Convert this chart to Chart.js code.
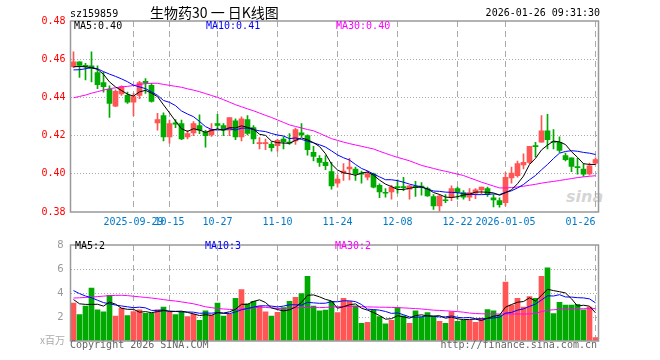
<!DOCTYPE html>
<html>
<head>
<meta charset="utf-8">
<script src="https://cdn.jsdelivr.net/npm/chart.js@4.4.0/dist/chart.umd.min.js"></script>
<style>
body{margin:0;background:#fff;}
#wrap{position:relative;width:660px;height:360px;overflow:hidden;font-family:"DejaVu Sans Mono",monospace;font-size:10px;line-height:12px;}
canvas{position:absolute;left:0;}
.t{position:absolute;white-space:pre;}
#sina{left:566px;top:187px;font:italic bold 16px "DejaVu Sans",sans-serif;color:rgba(195,195,195,0.7);}
</style>
</head>
<body>
<div id="wrap">
  <div class="t" id="sina">sina</div>
  <canvas id="kline" width="660" height="232" style="top:0"></canvas>
  <canvas id="vol" width="660" height="128" style="top:232px"></canvas>
  <div class="t" style="left:70px;top:8px;">sz159859</div>
  <div class="t" style="left:150px;top:5px;font:14px/15px 'Noto Sans CJK SC',sans-serif;">生物药30 一 日K线图</div>
  <div class="t" style="right:60px;top:7px;">2026-01-26 09:31:30</div>
  <div class="t" style="left:74px;top:20px;color:#000;">MA5:0.40</div>
  <div class="t" style="left:206px;top:20px;color:#0000ff;">MA10:0.41</div>
  <div class="t" style="left:336px;top:20px;color:#ff00ff;">MA30:0.40</div>
  <div class="t" style="left:75px;top:240px;color:#000;">MA5:2</div>
  <div class="t" style="left:205px;top:240px;color:#0000ff;">MA10:3</div>
  <div class="t" style="left:335px;top:240px;color:#ff00ff;">MA30:2</div>
  <div class="t" style="right:595px;top:334px;color:#aaa;font:10px/12px 'Noto Sans CJK SC',sans-serif;">x百万</div>
  <div class="t" style="left:70px;top:339px;color:#666;">Copyright 2026 SINA.COM</div>
  <div class="t" style="right:63px;top:339px;color:#666;">http://finance.sina.com.cn</div>
</div>
<script>
var dates = [
  '2025-09-15','2025-09-16','2025-09-17','2025-09-18','2025-09-19','2025-09-22','2025-09-23','2025-09-24','2025-09-25','2025-09-26',
  '2025-09-29','2025-09-30','2025-10-09','2025-10-10','2025-10-13','2025-10-14','2025-10-15','2025-10-16','2025-10-17','2025-10-20',
  '2025-10-21','2025-10-22','2025-10-23','2025-10-24','2025-10-27','2025-10-28','2025-10-29','2025-10-30','2025-10-31','2025-11-03',
  '2025-11-04','2025-11-05','2025-11-06','2025-11-07','2025-11-10','2025-11-11','2025-11-12','2025-11-13','2025-11-14','2025-11-17',
  '2025-11-18','2025-11-19','2025-11-20','2025-11-21','2025-11-24','2025-11-25','2025-11-26','2025-11-27','2025-11-28','2025-12-01',
  '2025-12-02','2025-12-03','2025-12-04','2025-12-05','2025-12-08','2025-12-09','2025-12-10','2025-12-11','2025-12-12','2025-12-15',
  '2025-12-16','2025-12-17','2025-12-18','2025-12-19','2025-12-22','2025-12-23','2025-12-24','2025-12-25','2025-12-26','2025-12-29',
  '2025-12-30','2025-12-31','2026-01-05','2026-01-06','2026-01-07','2026-01-08','2026-01-09','2026-01-12','2026-01-13','2026-01-14',
  '2026-01-15','2026-01-16','2026-01-19','2026-01-20','2026-01-21','2026-01-22','2026-01-23','2026-01-26'
];
var tickDates = ['2025-09-29','2025-10-15','2025-10-27','2025-11-10','2025-11-24','2025-12-08','2025-12-22','2026-01-05','2026-01-26'];
var tickText = ['2025-09-29','10-15','10-27','11-10','11-24','12-08','12-22','2026-01-05','01-26     '];

var open = [
  0.4561,0.4586,0.4568,0.4565,0.4530,0.4477,0.4442,0.4354,0.4418,0.4411,
  0.4375,0.4411,0.4484,0.4463,0.4267,0.4305,0.4193,0.4267,0.4263,0.4193,
  0.4214,0.4253,0.4218,0.4204,0.4263,0.4253,0.4228,0.4277,0.4193,0.4284,
  0.4242,0.4158,0.4158,0.4154,0.4147,0.4182,0.4165,0.4172,0.4214,0.4200,
  0.4112,0.4081,0.4060,0.4011,0.3951,0.4004,0.4025,0.4025,0.4002,0.3982,
  0.4000,0.3940,0.3900,0.3905,0.3932,0.3932,0.3919,0.3935,0.3932,0.3923,
  0.3881,0.3832,0.3861,0.3877,0.3923,0.3902,0.3877,0.3898,0.3916,0.3923,
  0.3874,0.3860,0.3849,0.3979,0.3990,0.4046,0.4060,0.4145,0.4165,0.4225,
  0.4166,0.4165,0.4095,0.4084,0.4035,0.4025,0.4000,0.4056
];
var high = [
  0.4639,0.4586,0.4579,0.4639,0.4565,0.4533,0.4460,0.4439,0.4460,0.4428,
  0.4421,0.4484,0.4498,0.4474,0.4316,0.4319,0.4281,0.4284,0.4281,0.4228,
  0.4274,0.4309,0.4228,0.4263,0.4312,0.4263,0.4295,0.4288,0.4298,0.4305,
  0.4253,0.4189,0.4182,0.4168,0.4182,0.4193,0.4211,0.4239,0.4263,0.4204,
  0.4144,0.4095,0.4095,0.4060,0.3993,0.4053,0.4081,0.4035,0.4014,0.4014,
  0.4004,0.3947,0.3923,0.3940,0.3968,0.3982,0.3940,0.3961,0.3954,0.3930,
  0.3891,0.3891,0.3891,0.3937,0.3930,0.3912,0.3923,0.3923,0.3930,0.3930,
  0.3891,0.3874,0.4007,0.4035,0.4067,0.4105,0.4144,0.4165,0.4305,0.4312,
  0.4232,0.4193,0.4109,0.4084,0.4081,0.4053,0.4056,0.4084
];
var low = [
  0.4556,0.4505,0.4491,0.4481,0.4446,0.4428,0.4295,0.4351,0.4410,0.4368,
  0.4305,0.4393,0.4421,0.4375,0.4228,0.4172,0.4161,0.4242,0.4179,0.4182,
  0.4200,0.4210,0.4140,0.4196,0.4235,0.4200,0.4200,0.4179,0.4172,0.4204,
  0.4158,0.4130,0.4126,0.4119,0.4119,0.4130,0.4154,0.4154,0.4193,0.4098,
  0.4067,0.4039,0.4021,0.3919,0.3930,0.3965,0.3968,0.3965,0.3951,0.3968,
  0.3926,0.3875,0.3877,0.3867,0.3898,0.3912,0.3867,0.3881,0.3888,0.3881,
  0.3814,0.3804,0.3849,0.3859,0.3867,0.3867,0.3859,0.3870,0.3895,0.3881,
  0.3826,0.3825,0.3832,0.3951,0.3982,0.4025,0.4053,0.4088,0.4165,0.4130,
  0.4130,0.4112,0.4067,0.4011,0.3998,0.3986,0.3993,0.4049
];
var close = [
  0.4586,0.4568,0.4561,0.4553,0.4467,0.4456,0.4368,0.4432,0.4456,0.4375,
  0.4404,0.4477,0.4474,0.4379,0.4284,0.4193,0.4263,0.4260,0.4182,0.4211,
  0.4263,0.4228,0.4200,0.4232,0.4253,0.4228,0.4295,0.4193,0.4288,0.4211,
  0.4182,0.4162,0.4161,0.4137,0.4175,0.4168,0.4161,0.4232,0.4204,0.4126,
  0.4091,0.4060,0.4042,0.3937,0.3972,0.4014,0.4035,0.4000,0.3998,0.4000,
  0.3930,0.3905,0.3898,0.3930,0.3928,0.3928,0.3937,0.3928,0.3930,0.3884,
  0.3832,0.3884,0.3859,0.3923,0.3902,0.3877,0.3902,0.3916,0.3930,0.3891,
  0.3863,0.3839,0.3982,0.4004,0.4053,0.4060,0.4144,0.4142,0.4225,0.4179,
  0.4164,0.4123,0.4074,0.4039,0.4032,0.3998,0.4042,0.4074
];
var ma5 = [
  0.4560,0.4562,0.4560,0.4555,0.4547,0.4521,0.4481,0.4455,0.4436,0.4417,
  0.4407,0.4429,0.4437,0.4422,0.4404,0.4361,0.4319,0.4276,0.4236,0.4222,
  0.4236,0.4229,0.4217,0.4227,0.4235,0.4228,0.4242,0.4240,0.4251,0.4243,
  0.4234,0.4207,0.4201,0.4171,0.4163,0.4161,0.4160,0.4175,0.4188,0.4178,
  0.4163,0.4143,0.4105,0.4051,0.4020,0.4005,0.4000,0.3992,0.4004,0.4009,
  0.3993,0.3967,0.3946,0.3933,0.3918,0.3918,0.3924,0.3930,0.3930,0.3921,
  0.3902,0.3892,0.3878,0.3876,0.3880,0.3889,0.3893,0.3904,0.3905,0.3903,
  0.3900,0.3888,0.3901,0.3916,0.3948,0.3988,0.4049,0.4081,0.4125,0.4150,
  0.4171,0.4167,0.4153,0.4116,0.4086,0.4053,0.4049,0.4049
];
var ma10 = [
  0.4544,0.4545,0.4550,0.4556,0.4550,0.4535,0.4522,0.4510,0.4497,0.4482,
  0.4464,0.4455,0.4446,0.4429,0.4411,0.4384,0.4374,0.4357,0.4329,0.4313,
  0.4299,0.4274,0.4247,0.4232,0.4229,0.4232,0.4236,0.4229,0.4239,0.4239,
  0.4231,0.4225,0.4221,0.4211,0.4203,0.4198,0.4184,0.4188,0.4180,0.4171,
  0.4162,0.4152,0.4140,0.4120,0.4099,0.4084,0.4072,0.4049,0.4028,0.4015,
  0.3999,0.3984,0.3969,0.3969,0.3964,0.3956,0.3946,0.3938,0.3932,0.3920,
  0.3910,0.3908,0.3904,0.3903,0.3901,0.3896,0.3893,0.3891,0.3891,0.3892,
  0.3895,0.3891,0.3903,0.3911,0.3926,0.3944,0.3969,0.3991,0.4021,0.4049,
  0.4080,0.4108,0.4117,0.4121,0.4118,0.4112,0.4108,0.4101
];
var ma30 = [
  0.4398,0.4405,0.4412,0.4422,0.4430,0.4438,0.4446,0.4450,0.4455,0.4458,
  0.4462,0.4468,0.4472,0.4474,0.4474,0.4468,0.4463,0.4458,0.4453,0.4445,
  0.4438,0.4430,0.4420,0.4410,0.4400,0.4388,0.4375,0.4362,0.4351,0.4340,
  0.4330,0.4318,0.4306,0.4295,0.4282,0.4269,0.4256,0.4248,0.4240,0.4232,
  0.4225,0.4212,0.4198,0.4184,0.4175,0.4166,0.4158,0.4151,0.4144,0.4137,
  0.4130,0.4118,0.4107,0.4096,0.4086,0.4077,0.4068,0.4056,0.4044,0.4036,
  0.4028,0.4020,0.4013,0.4006,0.3998,0.3991,0.3979,0.3968,0.3956,0.3946,
  0.3936,0.3926,0.3926,0.3928,0.3931,0.3935,0.3940,0.3945,0.3951,0.3956,
  0.3960,0.3965,0.3970,0.3975,0.3980,0.3984,0.3987,0.3990
];
// volume in millions
var volume = [
  3.15,2.20,2.91,4.42,2.60,2.44,3.81,2.07,2.75,2.12,
  2.46,2.60,2.30,2.30,2.60,2.83,2.41,2.20,2.41,2.04,
  2.25,1.72,2.52,2.17,3.15,2.07,2.25,3.55,4.29,3.10,
  3.31,2.89,2.44,2.07,2.38,2.78,3.31,3.63,3.95,5.38,
  2.91,2.52,2.57,3.31,2.36,3.55,3.31,2.94,1.48,1.56,
  2.57,2.04,1.43,1.72,2.78,2.10,1.48,2.52,2.00,2.36,
  2.04,1.64,1.48,2.44,1.64,1.72,1.72,1.56,1.90,2.62,
  2.52,2.17,4.90,3.00,3.55,2.83,3.71,3.55,5.38,6.09,
  2.28,3.23,3.00,3.00,3.05,2.60,2.83,0.29
];
var vma5 = [
  3.45,3.10,3.05,3.05,3.06,2.91,3.24,3.07,2.73,2.64,
  2.64,2.40,2.45,2.36,2.45,2.53,2.49,2.47,2.49,2.38,
  2.26,2.12,2.19,2.14,2.36,2.33,2.43,2.64,3.06,3.05,
  3.30,3.43,3.21,2.76,2.62,2.51,2.60,2.83,3.21,3.81,
  3.84,3.68,3.47,3.34,2.73,2.86,3.02,3.09,2.73,2.57,
  2.37,2.12,1.82,1.86,2.11,2.01,1.90,2.12,2.18,2.09,
  2.08,2.11,1.90,1.99,1.85,1.78,1.80,1.82,1.71,1.90,
  2.06,2.15,2.82,3.04,3.23,3.29,3.60,3.33,3.80,4.31,
  4.20,4.11,4.00,3.52,2.91,2.98,2.90,2.35
];
var vma10 = [
  4.20,3.95,3.75,3.60,3.40,3.20,3.10,3.00,2.92,2.85,
  2.78,2.82,2.76,2.55,2.55,2.59,2.45,2.46,2.43,2.42,
  2.40,2.31,2.33,2.32,2.37,2.30,2.28,2.42,2.60,2.71,
  2.82,2.93,2.93,2.91,2.84,2.91,3.02,3.02,2.99,3.22,
  3.18,3.14,3.15,3.28,3.27,3.35,3.35,3.28,3.04,2.65,
  2.62,2.57,2.46,2.30,2.34,2.19,2.01,1.97,2.02,2.10,
  2.05,2.01,2.01,2.09,1.97,1.93,1.96,1.86,1.85,1.88,
  1.92,1.98,2.32,2.38,2.57,2.68,2.88,3.08,3.42,3.77,
  3.75,3.86,3.67,3.66,3.61,3.59,3.51,3.18
];
var vma30 = [
  3.58,3.60,3.63,3.66,3.70,3.74,3.78,3.80,3.81,3.78,
  3.73,3.68,3.63,3.58,3.52,3.45,3.38,3.33,3.26,3.18,
  3.10,2.98,2.85,2.78,2.71,2.67,2.63,2.62,2.66,2.70,
  2.76,2.82,2.80,2.76,2.71,2.72,2.74,2.76,2.78,2.80,
  2.79,2.78,2.80,2.83,2.85,2.87,2.89,2.88,2.86,2.84,
  2.83,2.82,2.81,2.80,2.78,2.76,2.73,2.70,2.67,2.62,
  2.57,2.55,2.52,2.48,2.45,2.40,2.33,2.29,2.27,2.25,
  2.25,2.25,2.26,2.25,2.25,2.25,2.26,2.30,2.45,2.57,
  2.60,2.65,2.66,2.67,2.68,2.69,2.70,2.70
];

var up = '#ff5555', down = '#00aa00';
var candleColor = close.map(function(c, i){ return c >= open[i] ? up : down; });
var mono = 'DejaVu Sans Mono';

// plot border
var frame = {
  id: 'frame',
  afterDraw: function(chart){
    var a = chart.chartArea, ctx = chart.ctx;
    ctx.save();
    ctx.strokeStyle = '#999';
    ctx.lineWidth = 1.5;
    ctx.strokeRect(a.left, a.top, a.right - a.left, a.bottom - a.top);
    ctx.restore();
  }
};

// dashed vertical lines at the labelled dates
var vgrid = {
  id: 'vgrid',
  beforeDatasetsDraw: function(chart){
    var sx = chart.scales.x, a = chart.chartArea, ctx = chart.ctx;
    ctx.save();
    ctx.strokeStyle = '#aaa';
    ctx.lineWidth = 1;
    ctx.setLineDash([6, 4]);
    tickDates.forEach(function(d){
      var px = Math.floor(sx.getPixelForValue(dates.indexOf(d))) + 0.5;
      ctx.beginPath();
      ctx.moveTo(px, a.top);
      ctx.lineTo(px, a.bottom);
      ctx.stroke();
    });
    ctx.restore();
  }
};

function xAxis(showLabels, h){
  return {
    type: 'category',
    offset: true,
    grid: { display: false, drawTicks: false },
    border: { display: false },
    ticks: {
      display: showLabels, autoSkip: false, maxRotation: 0, minRotation: 0, padding: 4,
      color: '#0078c8', font: { family: mono, size: 10 },
      callback: function(v, i){ var k = tickDates.indexOf(dates[i]); return k >= 0 ? tickText[k] : ''; }
    },
    afterFit: function(s){ s.height = h; }
  };
}

function maLine(data, color){
  return { type: 'line', data: data, borderColor: color, borderWidth: 1, pointRadius: 0, tension: 0, order: 0 };
}

new Chart(document.getElementById('kline'), {
  type: 'bar',
  data: {
    labels: dates,
    datasets: [
      maLine(ma5, '#000000'),
      maLine(ma10, '#0000ff'),
      maLine(ma30, '#ff00ff'),
      { data: open.map(function(o, i){ return [o, close[i]]; }), backgroundColor: candleColor,
        barThickness: 5, minBarLength: 1, grouped: false, order: 1 },
      { data: low.map(function(l, i){ return [l, high[i]]; }), backgroundColor: candleColor,
        barThickness: 1, grouped: false, order: 2 }
    ]
  },
  options: {
    responsive: false, animation: false, devicePixelRatio: 1,
    layout: { padding: { left: 0, right: 61.5, top: 21, bottom: 0 } },
    plugins: { legend: { display: false }, tooltip: { enabled: false } },
    scales: {
      x: xAxis(true, 20),
      y: {
        min: 0.38, max: 0.48,
        grid: {
          drawTicks: false,
          color: function(ctx){ var v = ctx.tick ? ctx.tick.value : 0; return (v < 0.385 || v > 0.475) ? 'rgba(0,0,0,0)' : '#aaa'; }
        },
        border: { display: false, dash: [1, 2] },
        ticks: { stepSize: 0.02, padding: 5, color: '#ff0000', font: { family: mono, size: 10 },
          callback: function(v){ return v.toFixed(2); } },
        afterFit: function(s){ s.width = 70.5; }
      }
    }
  },
  plugins: [vgrid, frame]
});

new Chart(document.getElementById('vol'), {
  type: 'bar',
  data: {
    labels: dates,
    datasets: [
      maLine(vma5, '#000000'),
      maLine(vma10, '#0000ff'),
      maLine(vma30, '#ff00ff'),
      { data: volume, backgroundColor: candleColor, barThickness: 5, grouped: false, order: 1 }
    ]
  },
  options: {
    responsive: false, animation: false, devicePixelRatio: 1,
    layout: { padding: { left: 0, right: 61.5, top: 8, bottom: 0 } },
    plugins: { legend: { display: false }, tooltip: { enabled: false } },
    scales: {
      x: xAxis(false, 19),
      y: {
        min: 0, max: 8,
        grid: {
          drawTicks: false,
          color: function(ctx){ var v = ctx.tick ? ctx.tick.value : 0; return (v <= 0 || v >= 8) ? 'rgba(0,0,0,0)' : '#aaa'; }
        },
        border: { display: false, dash: [1, 2] },
        ticks: { stepSize: 2, padding: 7, color: '#999', font: { family: 'DejaVu Sans', size: 10 },
          callback: function(v){ return v === 0 ? '' : String(v); } },
        afterFit: function(s){ s.width = 70.5; }
      }
    }
  },
  plugins: [vgrid, frame]
});
</script>
</body>
</html>
